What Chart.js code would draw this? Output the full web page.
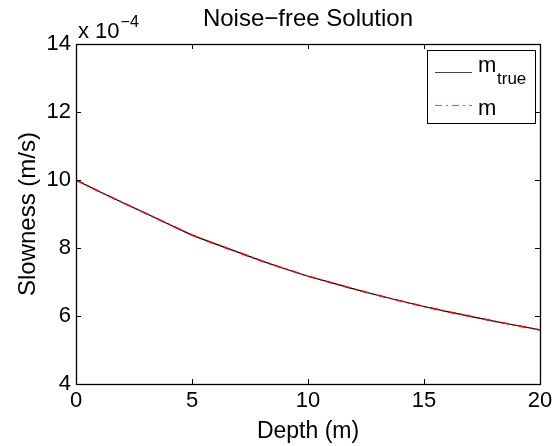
<!DOCTYPE html>
<html>
<head>
<meta charset="utf-8">
<script src="https://cdn.jsdelivr.net/npm/chart.js@4.4.1/dist/chart.umd.min.js"></script>
<style>
  html, body { margin: 0; padding: 0; background: #fff; }
  #wrap { width: 557px; height: 446px; }
</style>
</head>
<body>
<div id="wrap"><canvas id="c" width="557" height="446"></canvas></div>
<script>
// Depth (m)
const depths = [0,1,2,3,4,5,6,7,8,9,10,11,12,13,14,15,16,17,18,19,20];
// Slowness in units of 1e-4 s/m
const mTrue = [10.00,9.66,9.34,9.02,8.70,8.38,8.12,7.87,7.62,7.39,7.17,6.98,6.79,6.61,6.44,6.28,6.13,5.99,5.85,5.72,5.59];
const mEst  = [10.00,9.66,9.34,9.02,8.70,8.38,8.12,7.87,7.62,7.39,7.17,6.98,6.79,6.61,6.44,6.28,6.13,5.99,5.85,5.72,5.59];
const xTicks = [0,5,10,15,20];
const yTicks = [4,6,8,10,12,14];
const yExponent = '\u22124';
const titleText = 'Noise\u2212free Solution';

const FONT = 'Liberation Sans, Arial, Helvetica, sans-serif';
const RED = '#ff0000';

const frame = {
  id: 'frame',
  afterDatasetsDraw(chart) {
    const {ctx, chartArea: a, scales: {x, y}} = chart;
    ctx.save();
    ctx.strokeStyle = '#000';
    ctx.lineWidth = 1;
    const L = 5;
    ctx.beginPath();
    xTicks.forEach(v => {
      const px = Math.round(x.getPixelForValue(v)) + 0.5;
      ctx.moveTo(px, a.bottom); ctx.lineTo(px, a.bottom - L);
      ctx.moveTo(px, a.top); ctx.lineTo(px, a.top + L);
    });
    yTicks.forEach(v => {
      const py = Math.round(y.getPixelForValue(v)) + 0.5;
      ctx.moveTo(a.left, py); ctx.lineTo(a.left + L, py);
      ctx.moveTo(a.right, py); ctx.lineTo(a.right - L, py);
    });
    ctx.stroke();
    ctx.lineWidth = 1.3;
    ctx.strokeRect(Math.round(a.left) + 0.5, Math.round(a.top) + 0.5,
                   Math.round(a.right - a.left), Math.round(a.bottom - a.top));

    ctx.fillStyle = '#000';
    ctx.textBaseline = 'alphabetic';

    // title centred over the plot area
    ctx.textAlign = 'center';
    ctx.font = '24px ' + FONT;
    ctx.fillText(titleText, (a.left + a.right) / 2, 26);

    // exponent label
    ctx.textAlign = 'left';
    ctx.font = '22px ' + FONT;
    ctx.fillText('x 10', a.left + 2, a.top - 6);
    const w = ctx.measureText('x 10').width;
    ctx.font = '16px ' + FONT;
    ctx.fillText(yExponent, a.left + 2 + w + 1, a.top - 17);

    // legend
    const lx = 427, ly = 50, lw = 108, lh = 73;
    ctx.fillStyle = '#fff';
    ctx.fillRect(lx, ly, lw, lh);
    ctx.lineWidth = 1;
    ctx.strokeStyle = '#000';
    ctx.strokeRect(lx + 0.5, ly + 0.5, lw, lh);
    // row 1
    ctx.beginPath();
    ctx.strokeStyle = '#444';
    ctx.lineWidth = 1.2;
    ctx.setLineDash([]);
    ctx.moveTo(435, 72.5); ctx.lineTo(472, 72.5);
    ctx.stroke();
    ctx.fillStyle = '#000';
    ctx.font = '22px ' + FONT;
    ctx.fillText('m', 478, 72);
    ctx.font = '17px ' + FONT;
    ctx.fillText('true', 497, 84);
    // row 2
    ctx.beginPath();
    ctx.strokeStyle = '#ff5050';
    ctx.lineWidth = 1.2;
    ctx.setLineDash([7, 4, 2, 4]);
    ctx.moveTo(435, 105.5); ctx.lineTo(472, 105.5);
    ctx.stroke();
    ctx.setLineDash([]);
    ctx.font = '22px ' + FONT;
    ctx.fillText('m', 478, 115);
    ctx.restore();
  }
};

new Chart(document.getElementById('c'), {
  type: 'line',
  data: {
    labels: depths,
    datasets: [
      { label: 'm_true', order: 1, data: depths.map((d, i) => ({x: d, y: mTrue[i]})),
        borderColor: '#000000', borderWidth: 1.2, pointRadius: 0, tension: 0, fill: false },
      { label: 'm', order: 0, data: depths.map((d, i) => ({x: d, y: mEst[i]})),
        borderColor: RED, borderWidth: 1.6, borderDash: [8, 4, 2, 4], pointRadius: 0, tension: 0, fill: false }
    ]
  },
  plugins: [frame],
  options: {
    responsive: false,
    animation: false,
    devicePixelRatio: 1,
    layout: { padding: { left: 0, right: 17, top: 44, bottom: 0 } },
    plugins: {
      legend: { display: false },
      tooltip: { enabled: false },
      title: { display: false }
    },
    scales: {
      x: {
        type: 'linear', min: 0, max: 20,
        afterBuildTicks(s) { s.ticks = xTicks.map(v => ({value: v})); },
        afterFit(s) { s.height = 62; },
        grid: { display: false, drawTicks: false },
        border: { display: false },
        ticks: { color: '#000', font: { family: FONT, size: 22 }, padding: 4, maxRotation: 0 },
        title: { display: true, text: 'Depth (m)', color: '#000',
                 font: { family: FONT, size: 23 }, padding: { top: 0, bottom: 1 } }
      },
      y: {
        type: 'linear', min: 4, max: 14,
        afterBuildTicks(s) { s.ticks = yTicks.map(v => ({value: v})); },
        afterFit(s) { s.width = 76; },
        grid: { display: false, drawTicks: false },
        border: { display: false },
        ticks: { color: '#000', font: { family: FONT, size: 22 }, padding: 5 },
        title: { display: true, text: 'Slowness (m/s)', color: '#000',
                 font: { family: FONT, size: 24 }, padding: { top: 14, bottom: 0 } }
      }
    }
  }
});
</script>
</body>
</html>
